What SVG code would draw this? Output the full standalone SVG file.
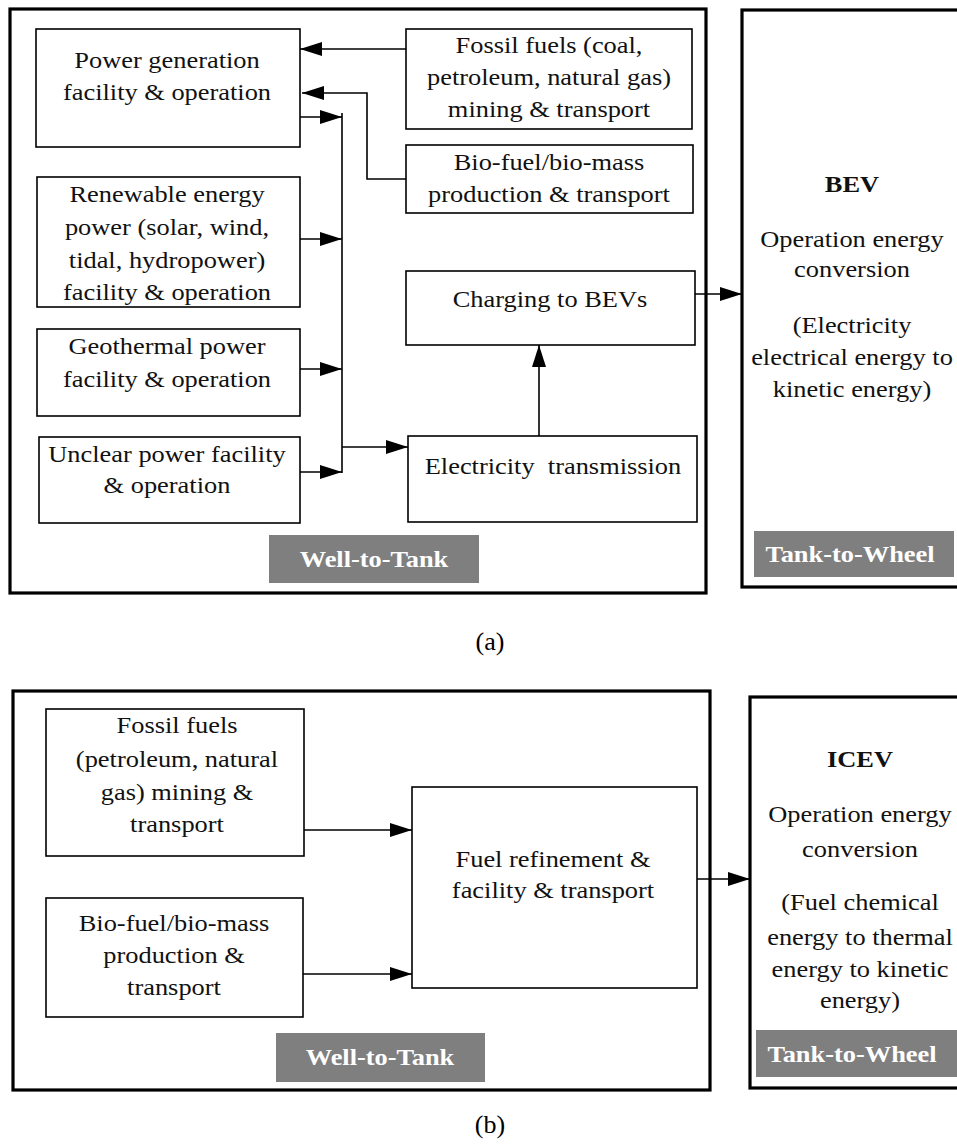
<svg xmlns="http://www.w3.org/2000/svg" width="957" height="1144" viewBox="0 0 957 1144">
<style>
.bg{fill:#fff}
.box{fill:#fff;stroke:#000;stroke-width:1.6}
.outer{fill:none;stroke:#000;stroke-width:3.2}
.lbl{fill:#7f7f7f;stroke:none}
.t{font-family:"Liberation Serif","Times New Roman",serif;font-size:24px;fill:#111;text-anchor:middle}
.b{font-weight:bold}
.w{fill:#fff;font-weight:bold}
.cap{font-family:"Liberation Serif","Times New Roman",serif;font-size:26px;fill:#000;text-anchor:middle}
.c{fill:none;stroke:#000;stroke-width:1.6}
</style>
<defs>
<marker id="ah" markerUnits="userSpaceOnUse" markerWidth="22" markerHeight="14" refX="22" refY="7" orient="auto">
<path d="M0,0 L22,7 L0,14 z" fill="#000"/>
</marker>
</defs>
<rect class="bg" x="0" y="0" width="957" height="1144"/>

<!-- Panel (a) -->
<g id="wtt-a">
<rect class="outer" x="10" y="9" width="696" height="584"/>
<rect class="lbl" x="269" y="535" width="210" height="48"/>
<text class="t w" transform="translate(374 567) scale(1.1 1)">Well-to-Tank</text>
</g>
<g id="power-gen">
<rect class="box" x="36" y="29" width="264" height="118"/>
<text class="t" transform="translate(167 68) scale(1.1 1)">Power generation</text>
<text class="t" transform="translate(167 100) scale(1.1 1)">facility &amp; operation</text>
</g>
<g id="fossil-a">
<rect class="box" x="406" y="29" width="286" height="100"/>
<text class="t" transform="translate(549 53) scale(1.1 1)">Fossil fuels (coal,</text>
<text class="t" transform="translate(549 85) scale(1.1 1)">petroleum, natural gas)</text>
<text class="t" transform="translate(549 117) scale(1.1 1)">mining &amp; transport</text>
</g>
<g id="bio-a">
<rect class="box" x="406" y="145" width="287" height="68"/>
<text class="t" transform="translate(549 170) scale(1.1 1)">Bio-fuel/bio-mass</text>
<text class="t" transform="translate(549 202) scale(1.1 1)">production &amp; transport</text>
</g>
<g id="renewable">
<rect class="box" x="37" y="177" width="263" height="130"/>
<text class="t" transform="translate(167 202) scale(1.1 1)">Renewable energy</text>
<text class="t" transform="translate(167 235) scale(1.1 1)">power (solar, wind,</text>
<text class="t" transform="translate(167 268) scale(1.1 1)">tidal, hydropower)</text>
<text class="t" transform="translate(167 300) scale(1.1 1)">facility &amp; operation</text>
</g>
<g id="geothermal">
<rect class="box" x="37" y="329" width="263" height="87"/>
<text class="t" transform="translate(167 354) scale(1.1 1)">Geothermal power</text>
<text class="t" transform="translate(167 387) scale(1.1 1)">facility &amp; operation</text>
</g>
<g id="unclear">
<rect class="box" x="39" y="437" width="261" height="86"/>
<text class="t" transform="translate(167 462) scale(1.1 1)">Unclear power facility</text>
<text class="t" transform="translate(167 493) scale(1.1 1)">&amp; operation</text>
</g>
<g id="charging">
<rect class="box" x="406" y="271" width="289" height="74"/>
<text class="t" transform="translate(550 307) scale(1.1 1)">Charging to BEVs</text>
</g>
<g id="transmission">
<rect class="box" x="408" y="436" width="289" height="86"/>
<text class="t" xml:space="preserve" transform="translate(553 474) scale(1.1 1)">Electricity  transmission</text>
</g>
<g id="bev">
<rect class="outer" x="742" y="10" width="240" height="577"/>
<text class="t b" transform="translate(852 192) scale(1.1 1)">BEV</text>
<text class="t" transform="translate(852 247) scale(1.1 1)">Operation energy</text>
<text class="t" transform="translate(852 277) scale(1.1 1)">conversion</text>
<text class="t" transform="translate(852 333) scale(1.1 1)">(Electricity</text>
<text class="t" transform="translate(852 365) scale(1.1 1)">electrical energy to</text>
<text class="t" transform="translate(852 397) scale(1.1 1)">kinetic energy)</text>
<rect class="lbl" x="754" y="531" width="200" height="46"/>
<text class="t w" transform="translate(850 562) scale(1.1 1)">Tank-to-Wheel</text>
</g>
<text class="cap" x="490" y="650">(a)</text>

<!-- Panel (b) -->
<g id="wtt-b">
<rect class="outer" x="13" y="691" width="697" height="399"/>
<rect class="lbl" x="276" y="1033" width="209" height="49"/>
<text class="t w" transform="translate(380 1065) scale(1.1 1)">Well-to-Tank</text>
</g>
<g id="fossil-b">
<rect class="box" x="46" y="709" width="258" height="147"/>
<text class="t" transform="translate(177 733) scale(1.1 1)">Fossil fuels</text>
<text class="t" transform="translate(177 767) scale(1.1 1)">(petroleum, natural</text>
<text class="t" transform="translate(177 800) scale(1.1 1)">gas) mining &amp;</text>
<text class="t" transform="translate(177 832) scale(1.1 1)">transport</text>
</g>
<g id="bio-b">
<rect class="box" x="46" y="898" width="257" height="119"/>
<text class="t" transform="translate(174 931) scale(1.1 1)">Bio-fuel/bio-mass</text>
<text class="t" transform="translate(174 963) scale(1.1 1)">production &amp;</text>
<text class="t" transform="translate(174 995) scale(1.1 1)">transport</text>
</g>
<g id="refinement">
<rect class="box" x="412" y="787" width="285" height="201"/>
<text class="t" transform="translate(553 867) scale(1.1 1)">Fuel refinement &amp;</text>
<text class="t" transform="translate(553 898) scale(1.1 1)">facility &amp; transport</text>
</g>
<g id="icev">
<rect class="outer" x="750" y="697" width="240" height="391"/>
<text class="t b" transform="translate(860 767) scale(1.1 1)">ICEV</text>
<text class="t" transform="translate(860 822) scale(1.1 1)">Operation energy</text>
<text class="t" transform="translate(860 857) scale(1.1 1)">conversion</text>
<text class="t" transform="translate(860 910) scale(1.1 1)">(Fuel chemical</text>
<text class="t" transform="translate(860 945) scale(1.1 1)">energy to thermal</text>
<text class="t" transform="translate(860 977) scale(1.1 1)">energy to kinetic</text>
<text class="t" transform="translate(860 1008) scale(1.1 1)">energy)</text>
<rect class="lbl" x="756" y="1030" width="210" height="47"/>
<text class="t w" transform="translate(852 1062) scale(1.1 1)">Tank-to-Wheel</text>
</g>
<text class="cap" x="490" y="1133">(b)</text>

<g id="connectors">
<path class="c" d="M406,49 H300" marker-end="url(#ah)"/>
<path class="c" d="M406,179 H367 V93 H302" marker-end="url(#ah)"/>
<path class="c" d="M300,117 H342" marker-end="url(#ah)"/>
<path class="c" d="M300,239 H342" marker-end="url(#ah)"/>
<path class="c" d="M300,369 H342" marker-end="url(#ah)"/>
<path class="c" d="M300,472 H342" marker-end="url(#ah)"/>
<path class="c" d="M342,113 V473"/>
<path class="c" d="M342,447 H408" marker-end="url(#ah)"/>
<path class="c" d="M539,436 V345" marker-end="url(#ah)"/>
<path class="c" d="M695,294 H742" marker-end="url(#ah)"/>
<path class="c" d="M304,830 H412" marker-end="url(#ah)"/>
<path class="c" d="M303,974 H412" marker-end="url(#ah)"/>
<path class="c" d="M697,879 H750" marker-end="url(#ah)"/>
</g>
</svg>
